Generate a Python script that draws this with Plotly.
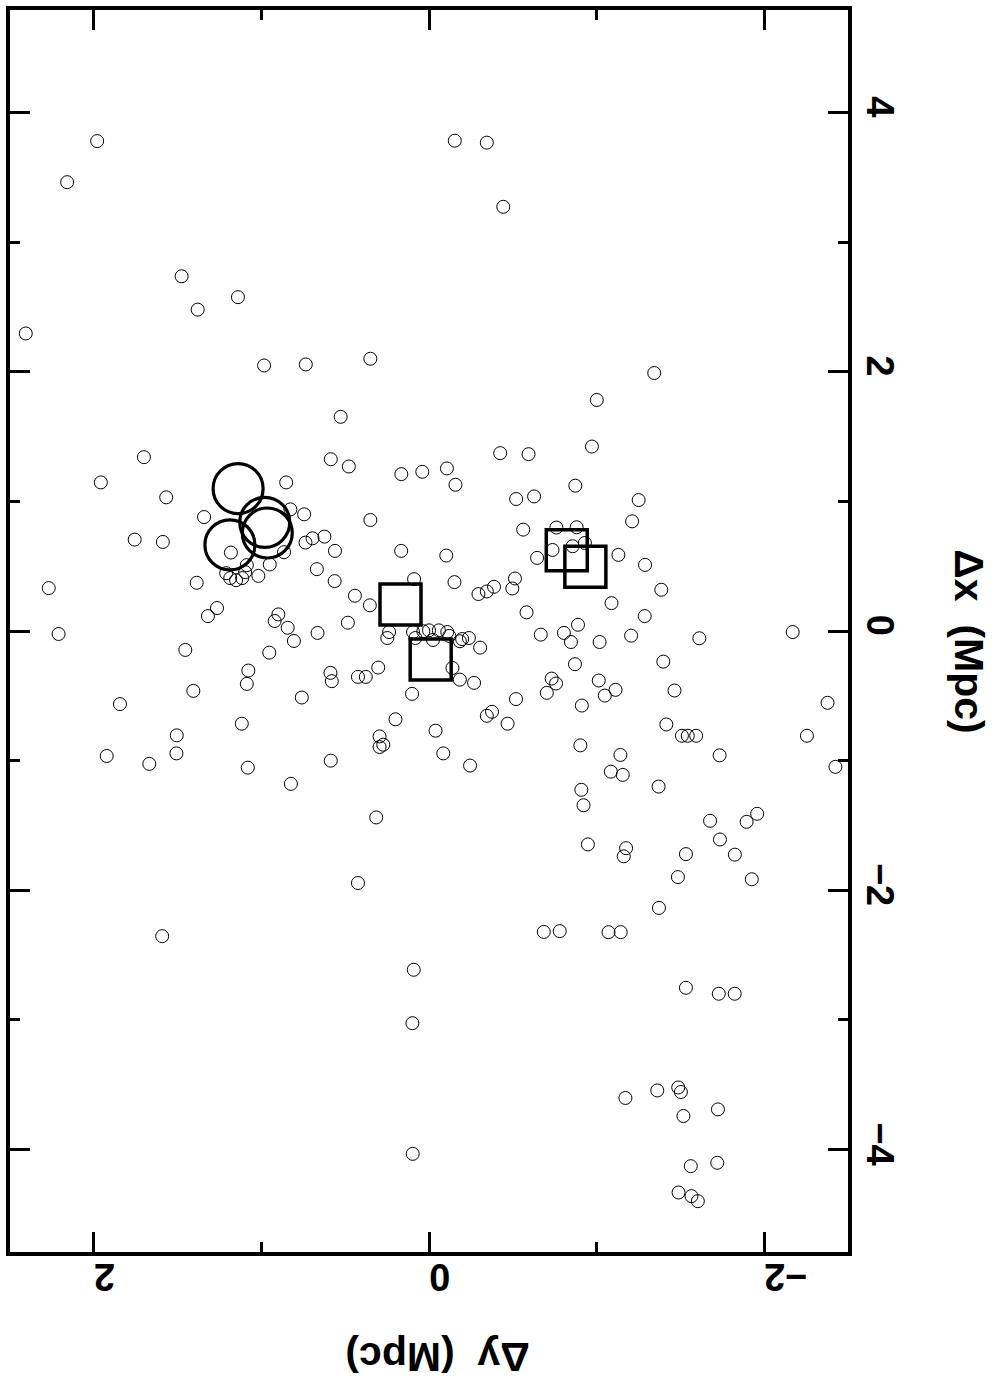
import plotly.graph_objects as go

# Galaxy positions (Mpc)
dy_gal = [1.980, 2.159, 1.476, 1.380, 1.140, 2.406, 0.984, 0.735, 0.350, 0.527,
          -0.154, -0.345, -0.443, -1.344, -1.001, 1.701, 1.958, 1.568, 1.342, 0.852,
          1.756, 1.588, 1.182, 1.087, 0.950, 0.865, 0.827, 1.210, 1.186, 1.151,
          1.115, 1.097, 1.018, 1.386, 2.269, 1.265, 1.319, 0.899, 0.921, 0.843,
          0.806, 2.210, 1.454, 0.953, 1.078, 1.087, 1.406, 1.844, 1.117, 0.586,
          0.478, -0.425, -0.594, 0.165, 0.040, -0.107, -0.158, -0.520, -0.627, 0.745,
          0.350, -0.562, 0.624, 0.695, 0.737, 0.561, 0.166, -0.103, -0.645, -0.760,
          -0.737, 0.669, 0.563, 0.089, -0.152, -0.513, -0.497, 0.442, 0.353, -0.295,
          -0.345, -0.388, -0.582, 0.484, 0.665, 0.238, 0.249, 0.095, 0.081, 0.034,
          0.000, -0.059, -0.024, -0.109, -0.121, -0.184, -0.198, -0.238, -0.305, -0.667,
          -0.805, -0.847, -0.140, -0.184, -0.269, 0.303, 0.424, 0.377, 0.588, 0.580,
          0.101, 0.759, -0.732, -0.758, -0.703, -0.871, -0.519, -0.345, -0.376, -0.469,
          0.200, -0.972, -0.873, -1.251, -1.212, -0.881, -0.857, -0.930, -1.130, -1.289,
          -1.386, -1.089, -1.287, -0.889, -1.018, -1.206, -1.613, -2.170, -1.398, -1.013,
          -1.113, -1.049, -1.465, -0.912, -2.378, -1.416, 1.505, 1.507, 1.923, 1.669,
          1.081, 0.824, 1.592, -0.039, 0.295, 0.273, 0.295, -0.085, -0.245, 0.586,
          0.315, 0.424, -0.685, -0.780, 0.091, -1.509, -1.544, -1.594, -2.255, -2.425,
          -0.903, -1.142, -1.085, -1.156, -1.734, -1.370, -0.909, -0.922, -1.677, -1.895,
          -1.958, -1.736, -1.825, -0.948, -1.176, -1.162, -1.533, -1.485, -1.926, -1.372,
          -1.071, -1.144, -1.533, -1.729, -1.824, 0.099, 0.097, -1.172, -1.362, -1.487,
          -1.503, -1.724, -1.518, -1.562, -1.720, -1.489, -1.566, -1.604]
dx_gal = [3.779, 3.462, 2.736, 2.479, 2.575, 2.295, 2.048, 2.056, 2.100, 1.652,
          3.782, 3.767, 3.272, 1.990, 1.782, 1.341, 1.146, 1.031, 0.879, 1.146,
          0.705, 0.687, 0.605, 0.508, 0.513, 0.608, 0.938, 0.446, 0.408, 0.392,
          0.408, 0.454, 0.425, 0.372, 0.331, 0.177, 0.115, 0.128, 0.077, 0.025,
          -0.077, -0.023, -0.146, -0.167, -0.305, -0.408, -0.462, -0.564, -0.715, 1.325,
          1.269, 1.372, 1.364, 1.210, 1.228, 1.254, 1.128, 1.018, 1.038, 0.900,
          0.856, 0.782, 0.728, 0.715, 0.682, 0.618, 0.618, 0.582, 0.564, 0.798,
          0.625, 0.477, 0.385, 0.400, 0.377, 0.405, 0.328, 0.272, 0.198, 0.285,
          0.305, 0.341, 0.144, 0.064, -0.015, -0.008, -0.054, -0.008, -0.054, -0.002,
          0.005, 0.005, -0.069, -0.008, -0.038, -0.079, -0.062, -0.054, -0.128, -0.028,
          -0.015, -0.085, -0.285, -0.375, -0.400, -0.282, -0.354, -0.354, -0.323, -0.387,
          -0.485, -0.513, -0.367, -0.405, -0.477, -0.256, -0.525, -0.654, -0.623, -0.715,
          -0.681, 1.423, 1.121, 1.010, 0.846, 0.800, 0.654, 0.679, 0.587, 0.510,
          0.318, 0.215, 0.115, 0.048, -0.085, -0.036, -0.056, -0.008, -0.236, -0.382,
          -0.454, -0.498, -0.459, -0.575, -0.554, -0.721, -0.805, -0.944, -0.964, -1.025,
          -1.054, -1.179, -2.354, -0.769, -0.813, -0.877, -0.895, -0.944, -1.038, -1.000,
          -1.438, -1.944, -2.321, -2.315, -2.613, -0.808, -0.808, -0.808, -0.808, -1.048,
          -0.882, -0.956, -1.085, -1.110, -0.959, -1.200, -1.225, -1.344, -1.464, -1.472,
          -1.410, -1.608, -1.725, -1.646, -1.675, -1.738, -1.721, -1.898, -1.915, -2.136,
          -2.323, -2.323, -2.752, -2.798, -2.798, -3.025, -4.033, -3.602, -3.544, -3.521,
          -3.556, -3.690, -3.741, -4.128, -4.102, -4.331, -4.359, -4.398]

# Large circles
dy_circ = [1.139, 0.980, 0.965, 1.188]
dx_circ = [1.098, 0.838, 0.756, 0.664]

# Squares
dy_sq = [0.170, -0.010, -0.822, -0.933]
dx_sq = [0.205, -0.219, 0.623, 0.495]

x_ticks = [2, 0, -2]
x_minor = [1, -1]
y_ticks = [-4, -2, 0, 2, 4]
y_minor = [-3, -1, 1, 3]

FONT = "Liberation Sans"
tfont = dict(family=FONT, size=38, color="black", weight="bold")

fig = go.Figure()
fig.add_trace(go.Scatter(
    x=dy_gal, y=dx_gal, mode="markers",
    marker=dict(symbol="circle-open", size=13, color="black", line=dict(width=1, color="black")),
    showlegend=False))
fig.add_trace(go.Scatter(
    x=dy_circ, y=dx_circ, mode="markers",
    marker=dict(symbol="circle-open", size=50, color="black", line=dict(width=3.2, color="black")),
    showlegend=False))
fig.add_trace(go.Scatter(
    x=dy_sq, y=dx_sq, mode="markers",
    marker=dict(symbol="square-open", size=41, color="black", line=dict(width=3.5, color="black")),
    showlegend=False))

fig.update_layout(
    width=994, height=1380,
    margin=dict(l=6, r=146, t=7, b=128),
    paper_bgcolor="white", plot_bgcolor="white",
    font=dict(family=FONT, color="black"),
    xaxis=dict(
        range=[2.5, -2.5], tickvals=x_ticks, ticktext=[str(v).replace("-", "\u2212") for v in x_ticks],
        ticks="inside", ticklen=20, tickwidth=3, tickcolor="black",
        minor=dict(tickvals=x_minor, ticks="inside", ticklen=10, tickwidth=3, tickcolor="black"),
        showline=True, linewidth=4, linecolor="black", mirror="allticks",
        showgrid=False, zeroline=False, tickangle=180,
        tickfont=tfont,
    ),
    yaxis=dict(
        range=[-4.79, 4.79], side="right", tickvals=y_ticks,
        ticktext=[str(v).replace("-", "\u2212") for v in y_ticks],
        ticks="inside", ticklen=20, tickwidth=3, tickcolor="black",
        minor=dict(tickvals=y_minor, ticks="inside", ticklen=10, tickwidth=3, tickcolor="black"),
        showline=True, linewidth=4, linecolor="black", mirror="allticks",
        showgrid=False, zeroline=False, tickangle=90,
        tickfont=tfont,
    ),
    annotations=[
        dict(text="<b>\u0394y  (Mpc)</b>", xref="x", yref="paper", x=-0.05, y=0, yshift=-105,
             showarrow=False, textangle=180, font=dict(family=FONT, size=41, color="black"),
             xanchor="center", yanchor="middle"),
        dict(text="<b>\u0394x  (Mpc)</b>", xref="paper", yref="y", x=1, y=-0.08, xshift=121,
             showarrow=False, textangle=90, font=dict(family=FONT, size=41, color="black"),
             xanchor="center", yanchor="middle"),
    ],
)

fig.write_html("out.html")
